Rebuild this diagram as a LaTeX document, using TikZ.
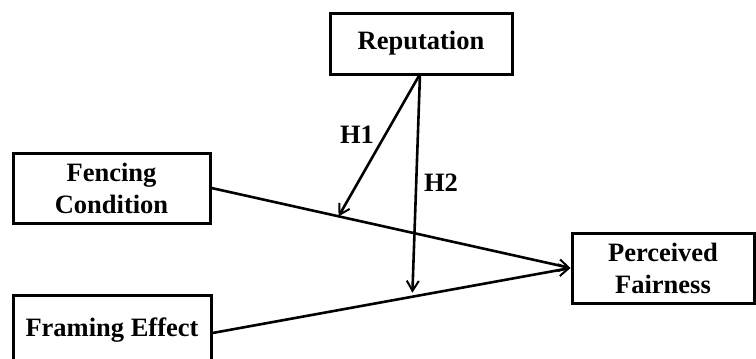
\documentclass[tikz,border=0pt]{standalone}
\usepackage{fontspec}
\setmainfont{Liberation Serif}
\usetikzlibrary{arrows.meta,calc}
\begin{document}
\begin{tikzpicture}[x=1pt,y=-1pt,
  box/.style={draw,line width=3pt,align=center,font=\fontsize{26.5}{32}\selectfont\bfseries,inner sep=0pt},
  conn/.style={line width=2.6pt,-{Straight Barb[length=10pt,width=12pt,line width=2pt]}},
  lbl/.style={font=\fontsize{26.5}{32}\selectfont\bfseries}]
\useasboundingbox (0,0) rectangle (756,359);
\clip (0,0) rectangle (756,359);
\node[box,minimum width=182,minimum height=61] (rep) at (421,43.5) {Reputation};
\node[box,minimum width=197,minimum height=70] (fen) at (111.5,188) {Fencing\\Condition};
\node[box,minimum width=198,minimum height=76] (fra) at (112,333) {};
\node[lbl] (fratext) at (112,330) {Framing Effect};
\node[box,minimum width=182,minimum height=70] (per) at (663,268) {Perceived\\Fairness};
\coordinate (t1) at ($(fen.east)!0.354!(per.west)$);
\coordinate (t2) at ($(fra.east)!0.558!(per.west)$);
\coordinate (src) at (420,74);
\draw[conn] (fen.east) -- (per.west);
\draw[conn] (fra.east) -- (per.west);
\draw[conn] (src) -- (t1);
\draw[conn,shorten >=4pt] (src) -- (t2);
\node[lbl] (h1) at (357,135) {H1};
\node[lbl] (h2) at (441,183) {H2};
\end{tikzpicture}
\end{document}
